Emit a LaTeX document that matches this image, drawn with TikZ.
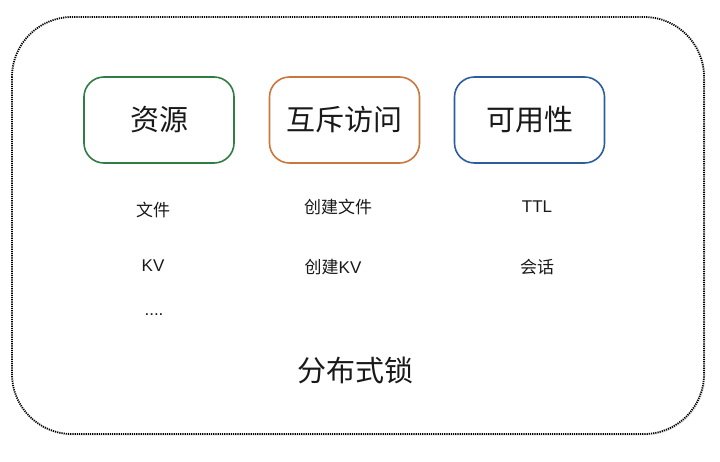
\documentclass[tikz,border=0pt]{standalone}
\usepackage{fontspec}
\setmainfont{Liberation Sans}
\newfontfamily\cjk{Noto Sans CJK SC}
\usetikzlibrary{shadows}
\definecolor{cgreen}{HTML}{2F7D40}
\definecolor{corange}{HTML}{C9773A}
\definecolor{cblue}{HTML}{2A5E9E}
\tikzset{
  x=1pt, y=-1pt,
  outer/.style={draw=black, line width=1.8pt, dash pattern=on 1.2pt off 1pt, rounded corners=60pt,
    drop shadow={shadow xshift=1.5pt, shadow yshift=-1.5pt, opacity=0.15}, fill=white},
  catbox/.style={draw, line width=1.6pt, rounded corners=20pt, minimum width=150pt, minimum height=86pt, fill=white},
  bigtxt/.style={font=\cjk\fontsize{29}{32}\selectfont, text=black!90},
  smalltxt/.style={font=\fontsize{17}{20}\selectfont, text=black!90},
}
\begin{document}
\begin{tikzpicture}
\useasboundingbox (0,0) rectangle (720,461);
\path[outer] (12,17) rectangle (704,434);
\node[catbox, draw=cgreen] (res) at (159,120) {};
\node[catbox, draw=corange] (mutex) at (344.5,120) {};
\node[catbox, draw=cblue] (avail) at (529.5,120) {};
\node[bigtxt] (resT) at (res.center) {资源};
\node[bigtxt] (mutexT) at (mutex.center) {互斥访问};
\node[bigtxt] (availT) at (avail.center) {可用性};
\node[smalltxt] (f1) at (153,210) {\cjk 文件};
\node[smalltxt] (f2) at (338,207) {\cjk 创建文件};
\node[smalltxt] (f3) at (537,207) {TTL};
\node[smalltxt] (k1) at (153,266) {KV};
\node[smalltxt] (k2) at (333,267) {{\cjk 创建}KV};
\node[smalltxt] (k3) at (537,267) {\cjk 会话};
\node[smalltxt] (d1) at (154,315) {....};
\node[bigtxt] (title) at (355.5,370) {分布式锁};
\end{tikzpicture}
\end{document}
